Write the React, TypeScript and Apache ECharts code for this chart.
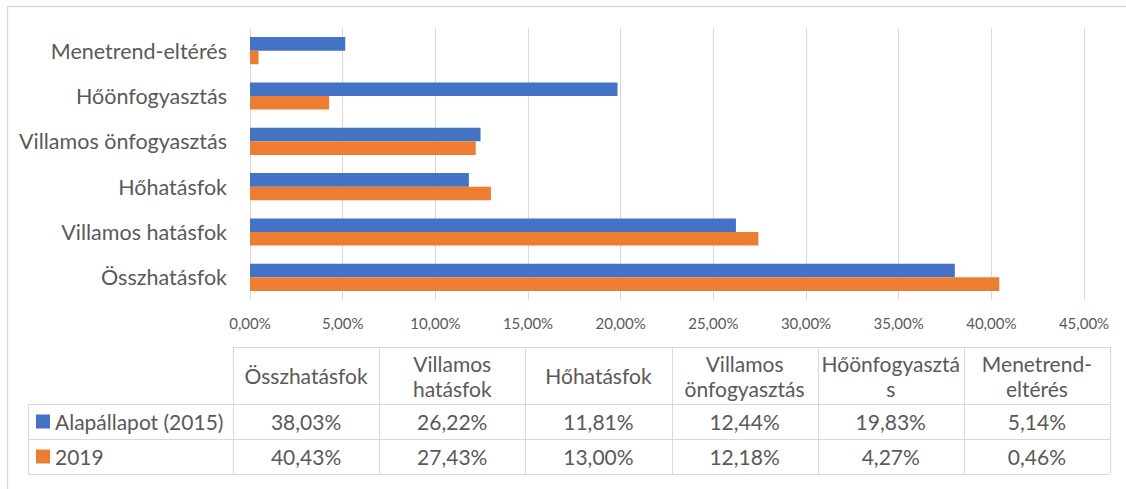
import React, { useEffect, useRef } from "react";
import * as echarts from "echarts";

const categories = ["Összhatásfok", "Villamos hatásfok", "Hőhatásfok", "Villamos önfogyasztás", "Hőönfogyasztás", "Menetrend-eltérés"];
const tableHeaders = ["Összhatásfok", "Villamos\nhatásfok", "Hőhatásfok", "Villamos\nönfogyasztás", "Hőönfogyaszt\u00e1\ns", "Menetrend-\neltérés"];
const seriesNames = ["Alapállapot (2015)", "2019"];
const baseValues = [38.03, 26.22, 11.81, 12.44, 19.83, 5.14];
const values2019 = [40.43, 27.43, 13.0, 12.18, 4.27, 0.46];
const colors = ["#4472C4", "#ED7D31"];
const xMax = 45;
const xInterval = 5;

const FONT = "Lato, 'Noto Sans', sans-serif";
const TEXT = "#595959";
const LINE = "#D9D9D9";

const fmt = (v: number) => v.toFixed(2).replace(".", ",") + "%";

export default function App() {
  const ref = useRef<HTMLDivElement>(null);
  useEffect(() => {
    if (!ref.current) return;
    const chart = echarts.init(ref.current, undefined, { renderer: "svg" });

    const tLeft = 28;
    const colStart = 233;
    const colW = (1110 - 233) / 6;
    const rowsY = [347, 404, 439, 474];
    const graphics: any[] = [];
    graphics.push({
      type: "rect",
      shape: { x: 7.5, y: 6.5, width: 1140, height: 500 },
      style: { fill: "none", stroke: LINE, lineWidth: 1.3 },
      silent: true,
    });
    const right = colStart + colW * 6;
    graphics.push({ type: "line", shape: { x1: colStart, y1: rowsY[0] + 0.5, x2: right, y2: rowsY[0] + 0.5 }, style: { stroke: LINE, lineWidth: 1 } });
    for (let r = 1; r < rowsY.length; r++) {
      graphics.push({ type: "line", shape: { x1: tLeft, y1: rowsY[r] + 0.5, x2: right, y2: rowsY[r] + 0.5 }, style: { stroke: LINE, lineWidth: 1 } });
    }
    graphics.push({ type: "line", shape: { x1: tLeft + 0.5, y1: rowsY[1], x2: tLeft + 0.5, y2: rowsY[3] }, style: { stroke: LINE, lineWidth: 1 } });
    for (let c = 0; c <= 6; c++) {
      const x = Math.round(colStart + colW * c) + 0.5;
      graphics.push({ type: "line", shape: { x1: x, y1: rowsY[0], x2: x, y2: rowsY[3] }, style: { stroke: LINE, lineWidth: 1 } });
    }
    tableHeaders.forEach((h, i) => {
      graphics.push({
        type: "text",
        x: colStart + colW * (i + 0.5),
        y: (rowsY[0] + rowsY[1]) / 2,
        style: { text: h, fill: TEXT, font: `21px ${FONT}`, align: "center", verticalAlign: "middle", lineHeight: 25 },
      });
    });
    const rowData = [baseValues, values2019];
    rowData.forEach((vals, r) => {
      const cy = (rowsY[r + 1] + rowsY[r + 2]) / 2;
      graphics.push({ type: "rect", shape: { x: 36, y: cy - 7, width: 14, height: 14 }, style: { fill: colors[r] } });
      graphics.push({
        type: "text",
        x: 55,
        y: cy,
        style: { text: seriesNames[r], fill: TEXT, font: `21px ${FONT}`, align: "left", verticalAlign: "middle" },
      });
      vals.forEach((v, i) => {
        graphics.push({
          type: "text",
          x: colStart + colW * (i + 0.5),
          y: cy,
          style: { text: fmt(v), fill: TEXT, font: `21px ${FONT}`, align: "center", verticalAlign: "middle" },
        });
      });
    });

    chart.setOption({
      animation: false,
      backgroundColor: "#fff",
      grid: { left: 250, right: 42, top: 28, bottom: 189, containLabel: false },
      xAxis: {
        type: "value",
        min: 0,
        max: xMax,
        interval: xInterval,
        axisLine: { show: false },
        axisTick: { show: false },
        splitLine: { show: true, lineStyle: { color: LINE, width: 1 } },
        axisLabel: { color: TEXT, fontFamily: FONT, fontSize: 15, margin: 15, formatter: (v: number) => fmt(v) },
      },
      yAxis: {
        type: "category",
        data: categories,
        axisLine: { show: false },
        axisTick: { show: false },
        axisLabel: { color: TEXT, fontFamily: FONT, fontSize: 21.5, margin: 23 },
      },
      series: [
        {
          name: seriesNames[0],
          type: "bar",
          data: baseValues,
          itemStyle: { color: colors[0] },
          barGap: "0%",
          barCategoryGap: "40%",
        },
        {
          name: seriesNames[1],
          type: "bar",
          data: values2019,
          itemStyle: { color: colors[1] },
          barGap: "0%",
          barCategoryGap: "40%",
        },
      ],
      graphic: graphics,
    });
    return () => chart.dispose();
  }, []);
  return (
    <div
      ref={ref}
      style={{ position: "fixed", left: 0, top: 0, width: 1126, height: 489, background: "#fff" }}
    />
  );
}
